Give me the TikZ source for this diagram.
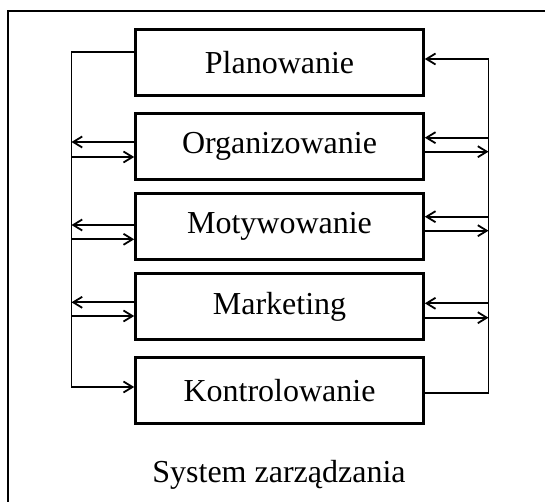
\documentclass[tikz,border=0pt]{standalone}
\usepackage{fontspec}
\setmainfont{Liberation Serif}
\usetikzlibrary{arrows.meta}
\begin{document}
\begin{tikzpicture}[x=1pt,y=-1pt,
  box/.style={draw, line width=2.6pt, minimum width=288pt, minimum height=66pt, inner sep=0pt,
    font=\fontsize{32}{36}\selectfont},
  conn/.style={line width=1.7pt},
  arr/.style={conn, -{Straight Barb[length=9pt,width=11pt,line width=1.8pt]}},
  frame/.style={line width=1.8pt}
]
\useasboundingbox (0,0) rectangle (545,502);
\fill[white] (0,0) rectangle (545,502);
% outer frame (only top and left edges visible)
\draw[frame] (8,560) -- (8,10.7) -- (600,10.7);

\node[box] (plan) at (279.5,62.5) {Planowanie};
\node[box] (org) at (279.5,146.5) {Organizowanie};
\node[box] (mot) at (279.5,226.7) {Motywowanie};
\node[box] (mkt) at (279.5,306.7) {Marketing};
\node[box] (kon) at (279.5,390.3) {Kontrolowanie};
\node[anchor=base, inner sep=0pt, font=\fontsize{32}{36}\selectfont] (sys) at (279,482) {System zarządzania};

\coordinate (Ltop) at (71.5,52);
\coordinate (Lbot) at (71.5,387);
\coordinate (Rtop) at (488.5,59);
\coordinate (Rbot) at (488.5,393);

% left bus
\draw[arr] (plan.west |- Ltop) -- (Ltop) -- (Lbot) -- (kon.west |- Lbot);
% right bus
\draw[arr] (kon.east |- Rbot) -- (Rbot) -- (Rtop) -- (plan.east |- Rtop);

% Organizowanie
\coordinate (oL1) at ([yshift=4.5pt]org.west);
\coordinate (oL2) at ([yshift=-10.5pt]org.west);
\coordinate (oR1) at ([yshift=8.8pt]org.east);
\coordinate (oR2) at ([yshift=-5.2pt]org.east);
\draw[arr] (oL1) -- (oL1 -| Ltop);
\draw[arr] (oL2 -| Ltop) -- (oL2);
\draw[arr] (oR1 -| Rtop) -- (oR1);
\draw[arr] (oR2) -- (oR2 -| Rtop);

% Motywowanie
\coordinate (mL1) at ([yshift=1.7pt]mot.west);
\coordinate (mL2) at ([yshift=-12.6pt]mot.west);
\coordinate (mR1) at ([yshift=10pt]mot.east);
\coordinate (mR2) at ([yshift=-4pt]mot.east);
\draw[arr] (mL1) -- (mL1 -| Ltop);
\draw[arr] (mL2 -| Ltop) -- (mL2);
\draw[arr] (mR1 -| Rtop) -- (mR1);
\draw[arr] (mR2) -- (mR2 -| Rtop);

% Marketing
\coordinate (kL1) at ([yshift=4.4pt]mkt.west);
\coordinate (kL2) at ([yshift=-9.3pt]mkt.west);
\coordinate (kR1) at ([yshift=3.4pt]mkt.east);
\coordinate (kR2) at ([yshift=-11pt]mkt.east);
\draw[arr] (kL1) -- (kL1 -| Ltop);
\draw[arr] (kL2 -| Ltop) -- (kL2);
\draw[arr] (kR1 -| Rtop) -- (kR1);
\draw[arr] (kR2) -- (kR2 -| Rtop);
\end{tikzpicture}
\end{document}
